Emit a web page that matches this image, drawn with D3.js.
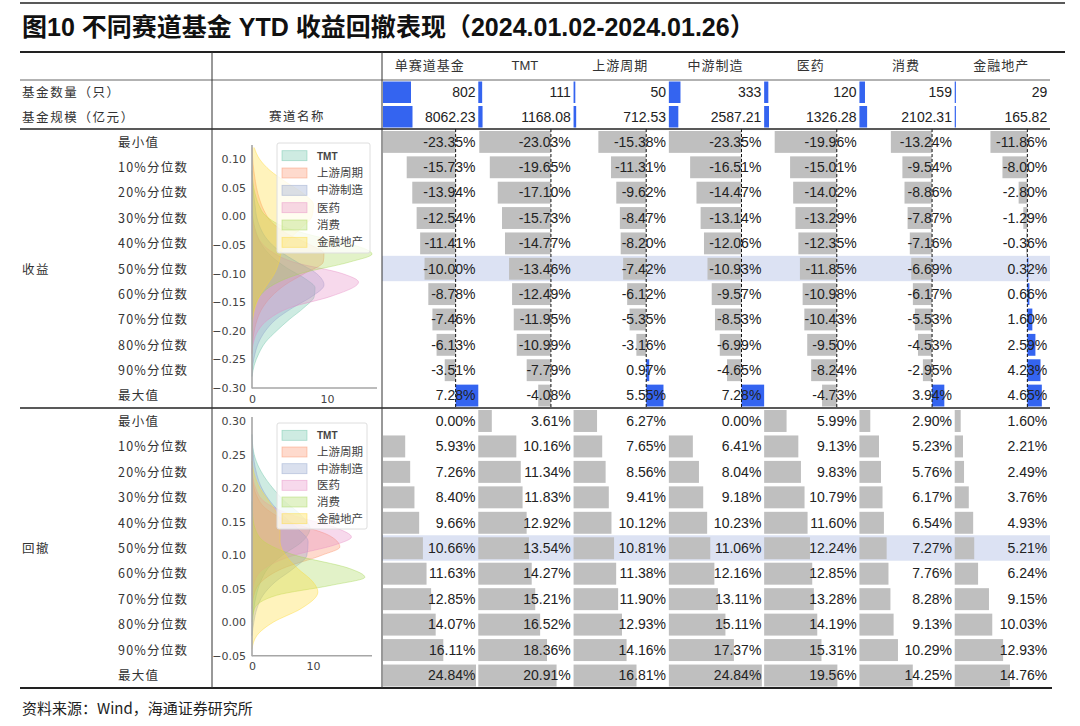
<!DOCTYPE html>
<html><head><meta charset="utf-8">
<script src="https://cdn.jsdelivr.net/npm/d3@7"></script>
<style>body{margin:0;background:#fff} svg{display:block}</style>
</head><body>
<svg id="c" width="1080" height="726"></svg>
<script>
// ---------------- data ----------------
const title = "图10 不同赛道基金 YTD 收益回撤表现（2024.01.02-2024.01.26）";
const source = "资料来源：Wind，海通证券研究所";
const sectors = ["单赛道基金","TMT","上游周期","中游制造","医药","消费","金融地产"];
const fundCount = [802,111,50,333,120,159,29];
const fundSize = [8062.23,1168.08,712.53,2587.21,1326.28,2102.31,165.82];
const rowLabels = ["最小值","10%分位数","20%分位数","30%分位数","40%分位数","50%分位数","60%分位数","70%分位数","80%分位数","90%分位数","最大值"];

// YTD return (%) by sector, rows = rowLabels
const retAll  = [-23.35,-15.73,-13.94,-12.54,-11.41,-10.00,-8.78,-7.46,-6.13,-3.51,7.28];
const retTMT  = [-23.03,-19.65,-17.10,-15.73,-14.77,-13.46,-12.49,-11.95,-10.99,-7.79,-4.08];
const retUp   = [-15.38,-11.31,-9.62,-8.47,-8.20,-7.42,-6.12,-5.35,-3.16,0.97,5.55];
const retMid  = [-23.35,-16.51,-14.47,-13.14,-12.06,-10.93,-9.57,-8.53,-6.99,-4.65,7.28];
const retMed  = [-19.96,-15.01,-14.02,-13.29,-12.35,-11.85,-10.98,-10.43,-9.50,-8.24,-4.73];
const retCons = [-13.24,-9.54,-8.86,-7.87,-7.16,-6.69,-6.17,-5.53,-4.53,-2.95,3.94];
const retFin  = [-11.86,-8.00,-2.80,-1.29,-0.36,0.32,0.66,1.60,2.59,4.23,4.65];

// YTD max drawdown (%) by sector
const ddAll  = [0.00,5.93,7.26,8.40,9.66,10.66,11.63,12.85,14.07,16.11,24.84];
const ddTMT  = [3.61,10.16,11.34,11.83,12.92,13.54,14.27,15.21,16.52,18.36,20.91];
const ddUp   = [6.27,7.65,8.56,9.41,10.12,10.81,11.38,11.90,12.93,14.16,16.81];
const ddMid  = [0.00,6.41,8.04,9.18,10.23,11.06,12.16,13.11,15.11,17.37,24.84];
const ddMed  = [5.99,9.13,9.83,10.79,11.60,12.24,12.85,13.28,14.19,15.31,19.56];
const ddCons = [2.90,5.23,5.76,6.17,6.54,7.27,7.76,8.28,9.13,10.29,14.25];
const ddFin  = [1.60,2.21,2.49,3.76,4.93,5.21,6.24,9.15,10.03,12.93,14.76];

// density plot series: [value, density]
const kdeNames = ["TMT","上游周期","中游制造","医药","消费","金融地产"];
const kdeColors = ["#66c2a5","#fc8d62","#8da0cb","#e78ac3","#a6d854","#ffd92f"];
const retKdeTMT  = [[-0.28,0],[-0.26,0.3],[-0.24,0.9],[-0.22,1.8],[-0.20,3.3],[-0.18,5.0],[-0.16,6.9],[-0.14,8.3],[-0.125,8.4],[-0.11,7.2],[-0.09,4.6],[-0.07,2.6],[-0.05,1.3],[-0.03,0.6],[-0.01,0.2],[0.01,0]];
const retKdeUp   = [[-0.24,0],[-0.22,0.1],[-0.20,0.3],[-0.18,0.7],[-0.16,1.4],[-0.14,2.6],[-0.12,4.4],[-0.10,7.0],[-0.08,9.5],[-0.065,9.6],[-0.05,7.8],[-0.03,4.6],[-0.01,2.6],[0.01,1.6],[0.03,1.0],[0.05,0.6],[0.07,0.35],[0.09,0.15],[0.11,0.05],[0.12,0]];
const retKdeMid  = [[-0.28,0],[-0.26,0.1],[-0.24,0.4],[-0.22,0.9],[-0.20,1.8],[-0.18,3.2],[-0.16,5.4],[-0.14,8.0],[-0.12,9.6],[-0.10,8.6],[-0.08,6.0],[-0.06,3.6],[-0.04,2.0],[-0.02,1.1],[0.00,0.6],[0.02,0.4],[0.04,0.2],[0.06,0.1],[0.08,0]];
const retKdeMed  = [[-0.24,0],[-0.22,0.2],[-0.20,0.8],[-0.18,2.2],[-0.16,5.0],[-0.14,10.5],[-0.115,14.2],[-0.10,12.0],[-0.08,5.5],[-0.06,2.4],[-0.04,0.9],[-0.02,0.3],[0.00,0]];
const retKdeCons = [[-0.18,0],[-0.16,0.3],[-0.14,1.0],[-0.12,2.8],[-0.10,6.5],[-0.08,13.0],[-0.066,16.0],[-0.05,13.5],[-0.035,8.5],[-0.02,4.6],[0.00,1.9],[0.02,0.9],[0.04,0.4],[0.06,0.1],[0.08,0]];
const retKdeFin  = [[-0.20,0],[-0.18,0.1],[-0.16,0.4],[-0.14,1.0],[-0.12,2.0],[-0.10,3.0],[-0.08,3.6],[-0.06,4.0],[-0.04,5.0],[-0.02,6.6],[0.00,8.0],[0.02,8.2],[0.04,6.8],[0.06,4.5],[0.08,2.4],[0.10,1.0],[0.12,0.3]];

const ddKdeTMT  = [[-0.02,0],[0.00,0.1],[0.02,0.3],[0.04,0.7],[0.06,1.4],[0.08,2.6],[0.10,5.0],[0.12,8.2],[0.14,9.5],[0.16,8.0],[0.18,5.4],[0.20,3.4],[0.22,1.8],[0.24,0.7],[0.26,0.15],[0.28,0]];
const ddKdeUp   = [[0.02,0],[0.04,0.3],[0.06,1.5],[0.08,5.0],[0.10,11.5],[0.112,14.4],[0.13,12.5],[0.15,6.0],[0.17,2.2],[0.19,0.7],[0.21,0.15],[0.23,0]];
const ddKdeMid  = [[-0.02,0],[0.00,0.3],[0.02,0.8],[0.04,1.8],[0.06,3.8],[0.08,6.8],[0.10,9.0],[0.12,9.2],[0.14,7.4],[0.16,5.0],[0.18,3.0],[0.20,1.6],[0.22,0.8],[0.24,0.35],[0.26,0.1],[0.28,0]];
const ddKdeMed  = [[0.04,0],[0.06,0.4],[0.08,2.0],[0.10,7.0],[0.115,13.5],[0.127,16.3],[0.14,14.0],[0.16,6.5],[0.18,2.0],[0.20,0.6],[0.22,0.1],[0.24,0]];
const ddKdeCons = [[0.00,0],[0.02,0.4],[0.04,4.0],[0.055,13.0],[0.067,18.5],[0.08,16.0],[0.10,7.0],[0.12,2.0],[0.14,0.5],[0.16,0.1],[0.18,0]];
const ddKdeFin  = [[-0.04,0],[-0.02,0.8],[0.00,3.5],[0.02,8.0],[0.045,10.8],[0.06,10.0],[0.08,7.5],[0.10,5.5],[0.12,4.6],[0.14,4.6],[0.16,4.2],[0.18,2.8],[0.20,1.3],[0.22,0.4],[0.24,0]];

const retTicks = [0.10,0.05,0.00,-0.05,-0.10,-0.15,-0.20,-0.25,-0.30];
const ddTicks = [0.30,0.25,0.20,0.15,0.10,0.05,0.00,-0.05];
const densTicks = [0,10];

// ---------------- drawing ----------------
const retCols = [retAll,retTMT,retUp,retMid,retMed,retCons,retFin];
const ddCols = [ddAll,ddTMT,ddUp,ddMid,ddMed,ddCons,ddFin];
const retKdes = [retKdeTMT,retKdeUp,retKdeMid,retKdeMed,retKdeCons,retKdeFin];
const ddKdes = [ddKdeTMT,ddKdeUp,ddKdeMid,ddKdeMed,ddKdeCons,ddKdeFin];

const FONT = "'Liberation Sans','Noto Sans CJK SC',sans-serif";
const CJK = "'Noto Sans CJK SC','Liberation Sans',sans-serif";
const BLUE = "#3464f0", GRAY = "#bfbfbf", HL = "#dce2f3";
const svg = d3.select("#c");

// title
const tt = svg.append("text").attr("x",22).attr("y",36)
  .attr("font-family",FONT).attr("font-weight","bold").attr("font-size",24)
  .attr("fill","#111").text(title);
const tw = tt.node().getComputedTextLength();
tt.attr("font-size", Math.max(20, Math.min(27, 24*733/tw)));

// column / row scales
const xCol = d3.scaleBand().domain(sectors).range([383,1050]);
const cw = xCol.bandwidth();
const yRet = d3.scaleBand().domain(rowLabels).range([129,408]);
const yDd = d3.scaleBand().domain(rowLabels).range([408,688]);
const retX = d3.scaleLinear().domain([d3.min(retCols.flat()), d3.max(retCols.flat())]).range([0,cw]);
const ddX = d3.scaleLinear().domain([0, d3.max(ddCols.flat())]).range([0,93]);
const cntX = d3.scaleLinear().domain([0, d3.max(fundCount)]).range([0,28]);
const sizeX = d3.scaleLinear().domain([0, d3.max(fundSize)]).range([0,29.5]);

// highlight median rows
[[yRet,"50%分位数"],[yDd,"50%分位数"]].forEach(([ys,l])=>{
  svg.append("rect").attr("x",382).attr("y",ys(l)).attr("width",1050-382).attr("height",ys.bandwidth()).attr("fill",HL);
});

// header labels
const gh = svg.append("g");
sectors.forEach(s=>{
  gh.append("text").attr("x",xCol(s)+cw/2-1).attr("y",70).attr("text-anchor","middle")
    .attr("font-family", s==="TMT"?FONT:CJK).attr("font-size",13).attr("letter-spacing", s==="TMT"?0:1)
    .attr("fill","#333").text(s);
});

// count & size rows
const hdrRows = [{lab:"基金数量（只）",vals:fundCount,sc:cntX,y0:80,y1:104.5,fmt:d3.format("d")},
                 {lab:"基金规模（亿元）",vals:fundSize,sc:sizeX,y0:104.5,y1:129,fmt:d3.format(".2f")}];
hdrRows.forEach(r=>{
  svg.append("text").attr("x",22).attr("y",(r.y0+r.y1)/2+5).attr("font-family",CJK).attr("font-size",12.5)
    .attr("letter-spacing",1.6).attr("fill","#333").text(r.lab);
  svg.selectAll(null).data(r.vals).join("rect")
    .attr("x",(d,i)=>xCol(sectors[i])).attr("y",r.y0+1.5).attr("height",r.y1-r.y0-3)
    .attr("width",d=>Math.max(1.2,r.sc(d))).attr("fill",BLUE);
  svg.selectAll(null).data(r.vals).join("text")
    .attr("x",(d,i)=>xCol(sectors[i])+92.5).attr("y",(r.y0+r.y1)/2+5).attr("text-anchor","end")
    .attr("font-family",FONT).attr("font-size",14).attr("fill","#222").text(d=>r.fmt(d));
});
svg.append("text").attr("x",297).attr("y",121).attr("text-anchor","middle").attr("font-family",CJK)
  .attr("font-size",12.5).attr("letter-spacing",1.5).attr("fill","#333").text("赛道名称");

// row labels
[[yRet,"收益"],[yDd,"回撤"]].forEach(([ys,sec])=>{
  svg.append("text").attr("x",22).attr("y",ys("50%分位数")+ys.bandwidth()/2+5).attr("font-family",CJK)
    .attr("font-size",12.5).attr("letter-spacing",1.5).attr("fill","#333").text(sec);
  rowLabels.forEach(l=>{
    svg.append("text").attr("x",118).attr("y",ys(l)+ys.bandwidth()/2+5).attr("font-family",CJK)
      .attr("font-size",12.5).attr("letter-spacing",1.2).attr("fill","#333").text(l);
  });
});

const pct = v => v.toFixed(2)+"%";
// return bars
retCols.forEach((vals,ci)=>{
  const x0 = xCol(sectors[ci]);
  const g = svg.append("g");
  g.selectAll("rect").data(vals).join("rect")
    .attr("x",d=>x0+Math.min(retX(d),retX(0))).attr("width",d=>Math.abs(retX(d)-retX(0)))
    .attr("y",(d,i)=>yRet(rowLabels[i])+2).attr("height",yRet.bandwidth()-3.5)
    .attr("fill",d=>d<0?GRAY:BLUE);
  g.append("line").attr("x1",x0+retX(0)).attr("x2",x0+retX(0)).attr("y1",129).attr("y2",408)
    .attr("stroke","#111").attr("stroke-width",1).attr("stroke-dasharray","3,2");
  g.selectAll("text").data(vals).join("text")
    .attr("x",x0+92.5).attr("y",(d,i)=>yRet(rowLabels[i])+yRet.bandwidth()/2+5).attr("text-anchor","end")
    .attr("font-family",FONT).attr("font-size",14).attr("fill","#222").text(pct);
});
// drawdown bars
ddCols.forEach((vals,ci)=>{
  const x0 = xCol(sectors[ci]);
  const g = svg.append("g");
  g.selectAll("rect").data(vals).join("rect")
    .attr("x",x0).attr("width",d=>ddX(d))
    .attr("y",(d,i)=>yDd(rowLabels[i])+2).attr("height",yDd.bandwidth()-3.5)
    .attr("fill",GRAY);
  g.selectAll("text").data(vals).join("text")
    .attr("x",x0+92.5).attr("y",(d,i)=>yDd(rowLabels[i])+yDd.bandwidth()/2+5).attr("text-anchor","end")
    .attr("font-family",FONT).attr("font-size",14).attr("fill","#222").text(pct);
});

// density plots
function kdePlot(kdes, yDom, yRange, spineTop, xRange, xMaxPx, ticks, legendBox){
  const Y = d3.scaleLinear().domain(yDom).range(yRange);
  const X = d3.scaleLinear().domain([0,10]).range(xRange);
  const g = svg.append("g");
  const area = d3.area().y(d=>Y(d[0])).x0(X(0)).x1(d=>X(d[1])).curve(d3.curveMonotoneY);
  const line = d3.line().y(d=>Y(d[0])).x(d=>X(d[1])).curve(d3.curveMonotoneY);
  kdes.forEach((k,i)=>{
    g.append("path").attr("d",area(k)).attr("fill",kdeColors[i]).attr("fill-opacity",0.32);
    g.append("path").attr("d",line(k)).attr("fill","none").attr("stroke",kdeColors[i]).attr("stroke-opacity",0.5).attr("stroke-width",0.8);
  });
  const bottom = yRange[0];
  g.append("line").attr("x1",X(0)).attr("x2",X(0)).attr("y1",spineTop).attr("y2",bottom+0.5).attr("stroke","#a6a6a6").attr("stroke-width",1.6);
  g.append("line").attr("x1",X(0)).attr("x2",xMaxPx).attr("y1",bottom).attr("y2",bottom).attr("stroke","#a6a6a6").attr("stroke-width",1.6);
  const ay = d3.axisLeft(Y).tickValues(ticks).tickSize(0).tickPadding(6).tickFormat(d=>d3.format(".2f")(d).replace("-","−"));
  const ga = g.append("g").attr("transform",`translate(${X(0)},0)`).call(ay);
  ga.select(".domain").remove();
  ga.selectAll("text").attr("font-family","'DejaVu Sans',sans-serif").attr("font-size",11).attr("fill","#444");
  const ax = d3.axisBottom(X).tickValues(densTicks).tickSize(0).tickPadding(7).tickFormat(d3.format("d"));
  const gx = g.append("g").attr("transform",`translate(0,${bottom})`).call(ax);
  gx.select(".domain").remove();
  gx.selectAll("text").attr("font-family","'DejaVu Sans',sans-serif").attr("font-size",11).attr("fill","#444");
  // legend
  const [lx,ly,lw,lh] = legendBox;
  g.append("rect").attr("x",lx).attr("y",ly).attr("width",lw).attr("height",lh).attr("rx",2)
    .attr("fill","#fff").attr("fill-opacity",0.78).attr("stroke","#dedede");
  const step = (lh-6)/kdeNames.length;
  kdeNames.forEach((n,i)=>{
    const cy = ly+4+step*(i+0.5);
    g.append("rect").attr("x",lx+5).attr("y",cy-5).attr("width",25).attr("height",10)
      .attr("fill",kdeColors[i]).attr("fill-opacity",0.32).attr("stroke",kdeColors[i]).attr("stroke-opacity",0.5).attr("stroke-width",0.8);
    g.append("text").attr("x",lx+40).attr("y",cy+4).attr("font-family",n==="TMT"?"'Liberation Sans Narrow','Liberation Sans',sans-serif":CJK)
      .attr("font-weight",n==="TMT"?"bold":"normal").attr("font-size",n==="TMT"?10:11.5).attr("fill","#444").text(n);
  });
}
kdePlot(retKdes,[-0.30,0.10],[388,159],145,[252,327],377,retTicks,[277,143,93,110]);
kdePlot(ddKdes,[-0.05,0.30],[655.7,421],417,[252,313],372,ddTicks,[277,423,90,106]);
// move dd bottom spine slightly lower handled by range

// table rules
const rule = (x1,x2,y,w,c)=>svg.append("line").attr("x1",x1).attr("x2",x2).attr("y1",y).attr("y2",y).attr("stroke",c).attr("stroke-width",w);
rule(20,1065,3,1.3,"#222");
rule(20,1065,52,2,"#222");
rule(20,1050,80,1,"#666");
rule(20,1050,129,1.5,"#222");
rule(20,1050,408,1.5,"#222");
rule(20,1052,688,2,"#222");
[212,382].forEach(x=>svg.append("line").attr("x1",x).attr("x2",x).attr("y1",52).attr("y2",688).attr("stroke","#333").attr("stroke-width",1));

// source
svg.append("text").attr("x",22).attr("y",714).attr("font-family",CJK).attr("font-size",15).attr("fill","#222").text(source);
</script>
</body></html>
